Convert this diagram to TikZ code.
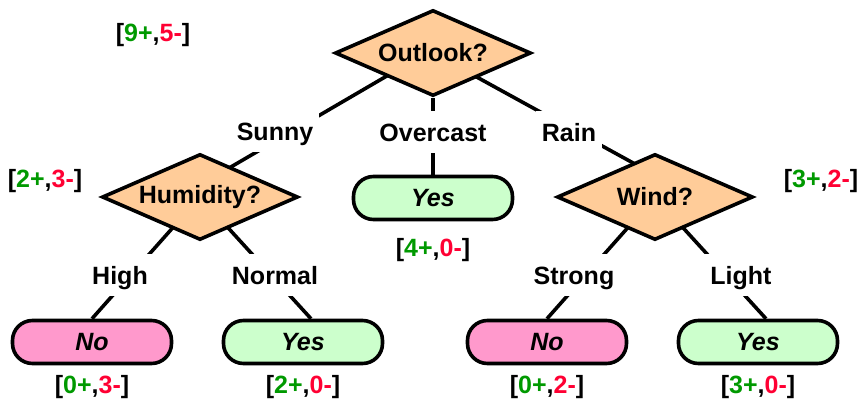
\documentclass[tikz,border=0pt]{standalone}
\usepackage{fontspec}
\setmainfont{Liberation Sans}
\usepackage{xcolor}
\usepackage{tikz}
\usetikzlibrary{shapes.geometric, positioning, backgrounds}
\definecolor{testfill}{RGB}{255,204,153}
\definecolor{yesfill}{RGB}{204,255,204}
\definecolor{nofill}{RGB}{255,153,204}
\definecolor{posgreen}{RGB}{0,153,0}
\definecolor{negred}{RGB}{255,0,51}
\newcommand{\splitcount}[2]{[\textcolor{posgreen}{#1+},\textcolor{negred}{#2-}]}

\begin{document}
\begin{tikzpicture}[
  x=0.5pt, y=-0.5pt,
  font=\fontsize{12.5}{15}\selectfont\bfseries,
  test/.style={draw, diamond, aspect=2.3, line width=1.8pt, fill=testfill, minimum width=98pt, minimum height=43pt, inner sep=0pt},
  leaf/.style={draw, rounded corners=10pt, line width=1.8pt, minimum width=79.5pt, minimum height=21.5pt, inner sep=0pt, font=\fontsize{12.5}{15}\selectfont\bfseries\itshape},
  yesleaf/.style={leaf, fill=yesfill},
  noleaf/.style={leaf, fill=nofill},
  branch/.style={fill=white, inner xsep=3pt, inner ysep=6pt, text height=9pt, text depth=0pt, anchor=base},
  cnt/.style={inner sep=0pt, anchor=base},
  link/.style={line width=1.8pt},
]
\useasboundingbox (0,0) rectangle (863,402);

% Tests and leaves
\node[test] (outlook) at (433,53) {Outlook?};
\node[test] (humidity) at (200,197) {Humidity?};
\node[test] (wind) at (655,197) {Wind?};
\node[yesleaf] (yesover) at (433,198) {Yes};
\node[noleaf] (nohigh) at (92,342) {No};
\node[yesleaf] (yesnormal) at (303,342) {Yes};
\node[noleaf] (nostrong) at (547,342) {No};
\node[yesleaf] (yeslight) at (758,342) {Yes};

% Branches
\begin{scope}[on background layer]
\draw[link] ([yshift=2pt]outlook.center) -- ([yshift=6pt]humidity.center);
\draw[link] (outlook) -- (yesover);
\draw[link] (outlook.center) -- ([yshift=11pt]wind.center);
\draw[link] (humidity.center) -- (nohigh.north);
\draw[link] (humidity.center) -- ([xshift=4pt]yesnormal.north);
\draw[link] (wind.center) -- (nostrong.north);
\draw[link] (wind.center) -- ([xshift=4pt]yeslight.north);
\end{scope}

% Branch labels
\node[branch] (sunny) at (275,140) {Sunny};
\node[branch] (overcast) at (433,141) {Overcast};
\node[branch] (rain) at (569,141) {Rain};
\node[branch] (high) at (120,284) {High};
\node[branch] (normal) at (275,284) {Normal};
\node[branch] (strong) at (574,284) {Strong};
\node[branch] (light) at (741,284) {Light};

% Example counts
\node[cnt] (croot) at (153,41) {\splitcount{9}{5}};
\node[cnt] (chumidity) at (45,187) {\splitcount{2}{3}};
\node[cnt] (cwind) at (821,187) {\splitcount{3}{2}};
\node[cnt, below=8.4pt of yesover] (cover) {\splitcount{4}{0}};
\node[cnt, below=4.9pt of nohigh] (chigh) {\splitcount{0}{3}};
\node[cnt, below=4.9pt of yesnormal] (cnormal) {\splitcount{2}{0}};
\node[cnt, below=4.9pt of nostrong] (cstrong) {\splitcount{0}{2}};
\node[cnt, below=4.9pt of yeslight] (clight) {\splitcount{3}{0}};

\end{tikzpicture}
\end{document}
